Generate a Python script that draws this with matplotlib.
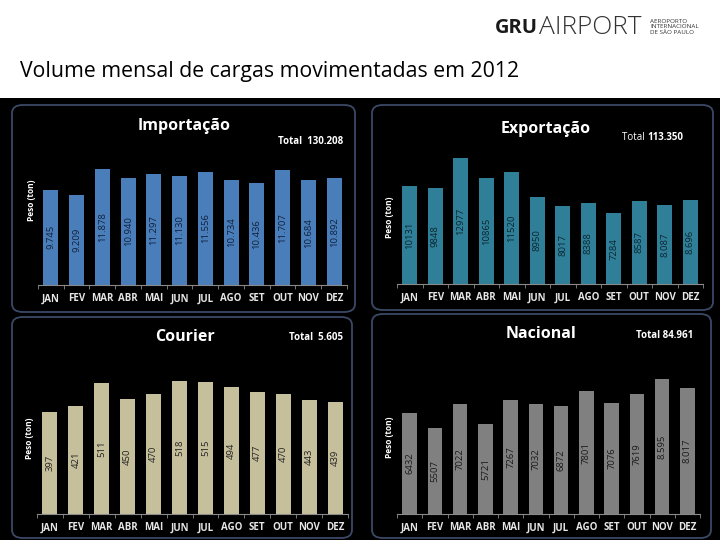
import matplotlib
matplotlib.use("Agg")
import matplotlib.pyplot as plt
from matplotlib.patches import FancyBboxPatch, Rectangle
import numpy as np

plt.rcParams['font.family'] = ['Open Sans', 'DejaVu Sans']

months = ['JAN', 'FEV', 'MAR', 'ABR', 'MAI', 'JUN', 'JUL', 'AGO', 'SET', 'OUT', 'NOV', 'DEZ']

imp_vals = [9745, 9209, 11878, 10940, 11297, 11130, 11556, 10734, 10436, 11707, 10684, 10892]
imp_lbls = ['9.745', '9.209', '11.878', '10.940', '11.297', '11.130', '11.556', '10.734',
            '10.436', '11.707', '10.684', '10.892']

exp_vals = [10131, 9848, 12977, 10865, 11520, 8950, 8017, 8388, 7284, 8587, 8087, 8696]
exp_lbls = ['10131', '9848', '12977', '10865', '11520', '8950', '8017', '8388', '7284',
            '8587', '8.087', '8.696']

cou_vals = [397, 421, 511, 450, 470, 518, 515, 494, 477, 470, 443, 439]
cou_lbls = [str(v) for v in cou_vals]

nac_vals = [6432, 5507, 7022, 5721, 7267, 7032, 6872, 7801, 7076, 7619, 8595, 8017]
nac_lbls = ['6432', '5507', '7022', '5721', '7267', '7032', '6872', '7801', '7076', '7619',
            '8.595', '8.017']

W, H = 720, 540
fig = plt.figure(figsize=(7.2, 5.4), dpi=100, facecolor='black')


def fx(px):
    return px / W


def fy(py):
    return 1 - py / H


# white header band
fig.patches.append(Rectangle((0, fy(98)), 1, 98 / H, transform=fig.transFigure,
                             facecolor='white', edgecolor='none', zorder=0))
fig.text(fx(20), fy(71), 'Volume mensal de cargas movimentadas em 2012', fontsize=15.3,
         color='black', ha='left', va='center')

# logo
fig.text(fx(495), fy(28), 'GRU', fontsize=14.5, fontweight='bold', color='#1a1a1a',
         ha='left', va='center')
fig.text(fx(539), fy(28), 'AIRPORT', fontsize=19, fontweight='light', color='#333333',
         ha='left', va='center')
fig.text(fx(650), fy(27), 'AEROPORTO\nINTERNACIONAL\nDE SÃO PAULO', fontsize=4.5,
         color='#333333', ha='left', va='center', linespacing=1.1)

panels = [
    # box (x0, y0, x1, y1 px), axes (left, right, baseline, top px), ymax
    dict(box=(12, 105, 355, 312), ax=(38, 347, 285, 150), ymax=13800,
         vals=imp_vals, lbls=imp_lbls, color='#4a7ebb', tcol='#10203a',
         title='Importação', tpos=(184, 126), total='Total  130.208', totpos=(343, 141),
         ylab=(31, 200)),
    dict(box=(372, 105, 713, 310), ax=(397, 703, 284, 150), ymax=13800,
         vals=exp_vals, lbls=exp_lbls, color='#2f7f98', tcol='#0b2530',
         title='Exportação', tpos=(546, 129), total=None, totpos=(678, 138),
         ylab=(390, 217)),
    dict(box=(12, 317, 352, 538), ax=(37, 348, 514, 370), ymax=562,
         vals=cou_vals, lbls=cou_lbls, color='#c6bf9b', tcol='#222222',
         title='Courier', tpos=(185, 337), total='Total  5.605', totpos=(343, 338),
         ylab=(30, 438)),
    dict(box=(372, 314, 711, 538), ax=(397, 700, 514, 370), ymax=9170,
         vals=nac_vals, lbls=nac_lbls, color='#808080', tcol='#1a1a1a',
         title='Nacional', tpos=(541, 334), total='Total 84.961', totpos=(693, 335),
         ylab=(390, 437)),
]

x = np.arange(len(months))

for p in panels:
    x0, y0, x1, y1 = p['box']
    fig.patches.append(FancyBboxPatch((fx(x0), fy(y1)), fx(x1 - x0), (y1 - y0) / H,
                                      boxstyle='round,pad=0,rounding_size=0.015',
                                      transform=fig.transFigure, facecolor='black',
                                      edgecolor='#3b4966', linewidth=1.3, zorder=0))
    l, r, b, t = p['ax']
    ax = fig.add_axes([fx(l), fy(b), fx(r - l), (b - t) / H])
    ax.set_zorder(3)
    ax.set_facecolor('none')
    ax.bar(x, p['vals'], width=0.58, color=p['color'], zorder=2)
    for xi, v, s in zip(x, p['vals'], p['lbls']):
        ax.text(xi, v / 2, s, rotation=90, ha='center', va='center', fontsize=6.8,
                color=p['tcol'], zorder=3)
    ax.set_xlim(-0.5, 11.5)
    ax.set_ylim(0, p['ymax'])
    for s in ['top', 'right', 'left']:
        ax.spines[s].set_visible(False)
    ax.spines['bottom'].set_color('#8a8a8a')
    ax.set_yticks([])
    ax.set_xticks(x)
    ax.set_xticklabels(months, fontsize=7, fontweight='bold', color='#e6e6e6')
    ax.tick_params(axis='x', which='major', length=0, pad=6)
    ax.set_xticks(np.arange(-0.5, 12, 1), minor=True)
    ax.tick_params(axis='x', which='minor', length=3, color='#8a8a8a')

    fig.text(fx(p['tpos'][0]), fy(p['tpos'][1]), p['title'], fontsize=11.5,
             fontweight='bold', color='white', ha='center', va='center', zorder=4)
    if p['total'] is not None:
        fig.text(fx(p['totpos'][0]), fy(p['totpos'][1]), p['total'], fontsize=7,
                 fontweight='bold', color='white', ha='right', va='center', zorder=4)
    fig.text(fx(p['ylab'][0]), fy(p['ylab'][1]), 'Peso (ton)', fontsize=6,
             fontweight='bold', color='white', rotation=90, ha='center', va='center',
             zorder=4)

# export total: regular label, bold number
fig.text(fx(647), fy(138), 'Total ', fontsize=7, color='white', ha='right', va='center',
         zorder=4)
fig.text(fx(647), fy(138), '113.350', fontsize=7, fontweight='bold', color='white',
         ha='left', va='center', zorder=4)

fig.savefig('out.png', dpi=100, facecolor=fig.get_facecolor())
